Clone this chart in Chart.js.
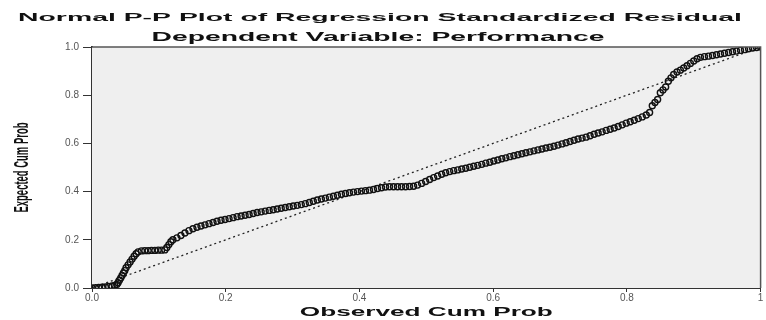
<!DOCTYPE html>
<html>
<head>
<meta charset="utf-8">
<script src="https://cdn.jsdelivr.net/npm/chart.js@4"></script>
<style>
body{margin:0;background:#fff}
#wrap{width:766px;height:320px}
</style>
</head>
<body>
<div id="wrap"><canvas id="ppChart" width="766" height="320"></canvas></div>
<script>
// observed vs expected cumulative probabilities
let obsCumProb = [
0.000,0.005,0.010,0.015,0.020,0.025,0.030,0.034,0.037,0.039,0.041,0.043,0.045,0.047,0.049,0.051,0.054,0.057,0.060,0.063,0.066,0.069,
0.074,0.079,0.084,0.089,0.094,0.099,0.104,0.109,0.112,0.115,0.118,0.121,
0.127,0.133,0.139,0.145,0.151,0.157,0.163,0.169,0.175,0.181,
0.187,0.193,0.199,0.205,0.211,0.217,0.223,0.229,0.235,0.241,0.247,
0.253,0.259,0.265,0.271,0.277,0.283,0.289,0.295,0.301,0.307,0.313,0.319,
0.325,0.331,0.337,0.343,0.349,0.355,0.361,0.367,0.373,0.379,0.385,0.391,0.397,0.403,0.409,0.415,0.421,
0.427,0.433,0.439,0.445,0.451,0.457,0.463,0.469,0.475,0.481,
0.487,0.493,0.499,0.505,0.511,0.517,0.523,0.529,
0.535,0.541,0.547,0.553,0.559,0.565,0.571,0.577,
0.583,0.589,0.595,0.601,0.607,0.613,0.619,0.625,0.631,0.637,0.643,0.649,0.655,0.661,0.667,0.673,0.679,0.685,
0.691,0.697,0.703,0.709,0.715,0.721,0.727,0.733,0.739,
0.745,0.751,0.757,0.763,0.769,0.775,0.781,0.787,0.793,0.799,
0.805,0.811,0.817,0.823,0.829,0.834,
0.838,0.842,0.846,0.850,0.854,0.858,0.862,0.866,0.870,
0.875,0.880,0.885,0.890,0.895,0.900,0.905,0.910,
0.916,0.922,0.928,0.934,0.940,0.946,0.952,0.958,0.964,0.970,0.976,0.982,0.988,0.994,1.000]
let expCumProb = [
0.000,0.001,0.002,0.003,0.004,0.006,0.008,0.011,0.015,0.022,0.032,0.042,0.052,0.062,0.072,0.084,0.096,0.108,0.120,0.132,0.142,0.150,
0.154,0.155,0.155,0.156,0.156,0.157,0.157,0.158,0.168,0.180,0.192,0.200,
0.208,0.218,0.228,0.238,0.246,0.252,0.257,0.262,0.267,0.272,
0.277,0.281,0.284,0.288,0.292,0.296,0.299,0.302,0.305,0.309,0.313,
0.316,0.319,0.322,0.325,0.328,0.331,0.334,0.337,0.340,0.343,0.346,0.350,
0.355,0.360,0.365,0.369,0.373,0.377,0.381,0.385,0.389,0.392,0.395,0.398,0.400,0.402,0.404,0.406,0.409,
0.413,0.416,0.419,0.420,0.420,0.420,0.420,0.420,0.421,0.422,
0.427,0.434,0.442,0.450,0.458,0.465,0.472,0.478,
0.483,0.487,0.490,0.494,0.497,0.501,0.505,0.509,
0.513,0.518,0.522,0.527,0.531,0.536,0.540,0.545,0.549,0.553,0.557,0.561,0.565,0.569,0.573,0.577,0.581,0.584,
0.588,0.593,0.598,0.603,0.608,0.613,0.618,0.622,0.626,
0.632,0.638,0.643,0.648,0.654,0.659,0.664,0.670,0.677,0.684,
0.690,0.696,0.703,0.710,0.718,0.728,
0.756,0.770,0.782,0.810,0.822,0.834,0.858,0.872,0.886,
0.896,0.904,0.913,0.922,0.932,0.942,0.951,0.957,
0.960,0.962,0.965,0.968,0.971,0.974,0.977,0.980,0.983,0.986,0.989,0.993,0.996,0.998,1.000]

let refLineX = [0, 1]
let refLineY = [0, 1]

let tickValues = [0, 0.2, 0.4, 0.6, 0.8, 1]
let xTickLabels = ["0.0","0.2","0.4","0.6","0.8","1"]
let yTickLabels = ["0.0","0.2","0.4","0.6","0.8","1.0"]

let mainTitle = "Normal P-P Plot of Regression Standardized Residual"
let subTitle = "Dependent Variable: Performance"
let xTitle = "Observed Cum Prob"
let yTitle = "Expected Cum Prob"

// draws text stretched to a given width (the source image is stretched)
function stretchText(ctx, txt, font, cx, cy, w, sy, rot){
ctx.save()
ctx.font = font
ctx.fillStyle = "#111"
ctx.textAlign = "center"
ctx.textBaseline = "middle"
let natural = ctx.measureText(txt).width
ctx.translate(cx, cy)
if(rot) ctx.rotate(rot)
ctx.scale(w / natural, sy)
ctx.fillText(txt, 0, 0)
ctx.restore()
}

let framePlugin = {
id:"frame",
beforeDatasetsDraw(chart){
let a = chart.chartArea, ctx = chart.ctx
ctx.save()
ctx.fillStyle = "#efefef"
ctx.fillRect(a.left, a.top, a.right - a.left, a.bottom - a.top)
ctx.restore()
},
afterDraw(chart){
let a = chart.chartArea, ctx = chart.ctx
ctx.save()
ctx.strokeStyle = "#555"
ctx.lineWidth = 1.5
ctx.beginPath()
ctx.moveTo(a.left, a.top)
ctx.lineTo(a.right, a.top)
ctx.lineTo(a.right, a.bottom)
ctx.stroke()
ctx.restore()
stretchText(ctx, mainTitle, "bold 10px 'Liberation Sans', Arial", 380, 18, 724, 1.1)
stretchText(ctx, subTitle, "bold 11px 'Liberation Sans', Arial", 378, 38, 453, 1.1)
stretchText(ctx, xTitle, "bold 11px 'Liberation Sans', Arial", (a.left + a.right) / 2, 313, 253, 1.1)
stretchText(ctx, yTitle, "bold 13px 'Liberation Sans', Arial", 23, (a.top + a.bottom) / 2, 90, 1.5, -Math.PI / 2)
}
}

let points = obsCumProb.map((v, i) => ({x:v, y:expCumProb[i]}))
let refLine = refLineX.map((v, i) => ({x:v, y:refLineY[i]}))

new Chart(document.getElementById("ppChart"),{
type:"scatter",
data:{
datasets:[{
label:"Observed",
data:points,
pointStyle:"circle",
pointRadius:3,
pointBorderWidth:1.4,
borderColor:"#111",
backgroundColor:"rgba(0,0,0,0)",
showLine:false
},{
label:"Expected",
data:refLine,
showLine:true,
pointRadius:0,
borderColor:"#222",
borderWidth:1.3,
borderDash:[2,3]
}]
},
options:{
responsive:false,
animation:false,
layout:{padding:{left:0, right:3, top:47, bottom:0}},
plugins:{legend:{display:false}, tooltip:{enabled:false}, title:{display:false}},
scales:{
x:{
type:"linear", min:0, max:1,
afterFit(s){ s.height = 32 },
afterBuildTicks(s){ s.ticks = tickValues.map(v => ({value:v})) },
grid:{drawOnChartArea:false, drawTicks:true, tickLength:4, color:"#333"},
border:{display:true, color:"#333", width:2},
ticks:{
color:"#555", padding:0, maxRotation:0,
font:{family:"'Liberation Sans', Arial", size:10},
callback:(v) => xTickLabels[tickValues.indexOf(v)]
}
},
y:{
type:"linear", min:0, max:1,
afterFit(s){ s.width = 92 },
afterBuildTicks(s){ s.ticks = tickValues.map(v => ({value:v})) },
grid:{drawOnChartArea:false, drawTicks:true, tickLength:9, color:"#333"},
border:{display:true, color:"#333", width:2},
ticks:{
color:"#555", padding:4,
font:{family:"'Liberation Sans', Arial", size:10},
callback:(v) => yTickLabels[tickValues.indexOf(v)]
}
}
}
},
plugins:[framePlugin]
})
</script>
</body>
</html>
